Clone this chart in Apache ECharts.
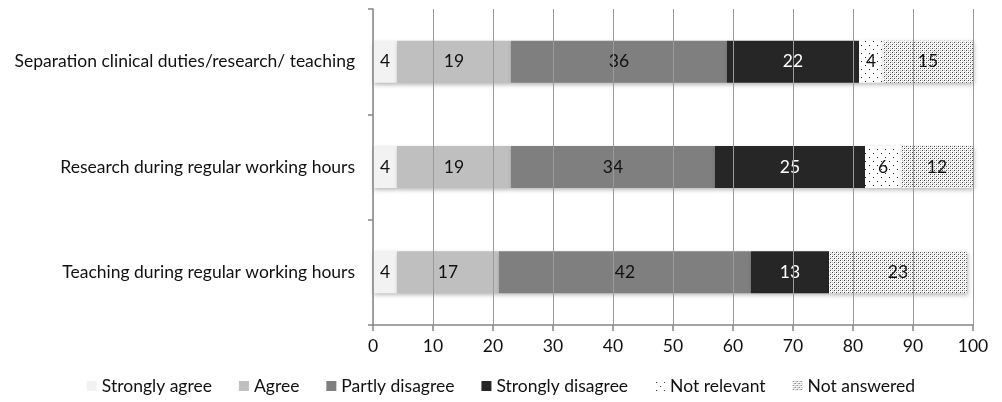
<!DOCTYPE html>
<html>
<head>
<meta charset="utf-8">
<script src="https://cdn.jsdelivr.net/npm/echarts@6/dist/echarts.min.js"></script>
<style>
  html, body { margin: 0; padding: 0; background: #fff; }
  #chart { width: 1002px; height: 402px; }
</style>
</head>
<body>
<div id="chart"></div>
<script>
// Survey responses (%) per statement
const categories = [
  'Separation clinical duties/research/ teaching',
  'Research during regular working hours',
  'Teaching during regular working hours'
];
const stronglyAgree = [4, 4, 4];
const agree = [19, 19, 17];
const partlyDisagree = [36, 34, 42];
const stronglyDisagree = [22, 25, 13];
const notRelevant = [4, 6, 0];
const notAnswered = [15, 12, 23];
const xTicks = [0, 10, 20, 30, 40, 50, 60, 70, 80, 90, 100];

// Dotted fills for the two "no opinion" groups
function dotPattern(size, dots) {
  const c = document.createElement('canvas');
  c.width = size; c.height = size;
  const g = c.getContext('2d');
  g.fillStyle = '#ffffff';
  g.fillRect(0, 0, size, size);
  dots.forEach(d => { g.fillStyle = d[2]; g.fillRect(d[0], d[1], 1, 1); });
  return { image: c, repeat: 'repeat' };
}
const sparseDots = dotPattern(8, [[1, 1, '#222'], [5, 5, '#222']]);
const denseDots = dotPattern(4, [[0, 0, '#444'], [2, 2, '#444'], [2, 0, '#bbb'], [0, 2, '#bbb'], [1, 3, '#ddd'], [3, 1, '#ddd']]);

const FONT = 'Lato';
const FS = 17.5;
const chart = echarts.init(document.getElementById('chart'), null, { renderer: 'canvas' });

function seriesOf(name, values, color, textColor) {
  return {
    name: name,
    type: 'bar',
    stack: 'total',
    barWidth: 42,
    data: values,
    itemStyle: {
      color: color,
      shadowColor: 'rgba(0,0,0,0.28)',
      shadowBlur: 4,
      shadowOffsetX: 1,
      shadowOffsetY: 2
    },
    label: {
      show: true,
      position: 'inside',
      color: textColor,
      fontFamily: FONT,
      fontSize: FS,
      formatter: p => (p.value ? String(p.value) : '')
    },
    emphasis: { disabled: true }
  };
}

chart.setOption({
  animation: false,
  grid: { left: 373, right: 29, top: 9, bottom: 77, containLabel: false },
  legend: {
    top: 372,
    left: 'center',
    icon: 'rect',
    itemWidth: 10,
    itemHeight: 10,
    itemGap: 27,
    textStyle: { fontFamily: FONT, fontSize: FS, color: '#111' },
    data: ['Strongly agree', 'Agree', 'Partly disagree', 'Strongly disagree', 'Not relevant', 'Not answered']
  },
  xAxis: {
    type: 'value',
    min: 0,
    max: 100,
    interval: 10,
    z: 5,
    axisLine: { show: true, lineStyle: { color: '#868686', width: 1.5 } },
    axisTick: { show: true, length: 6, lineStyle: { color: '#868686', width: 1.5 } },
    axisLabel: {
      margin: 12,
      fontFamily: FONT,
      fontSize: FS,
      color: '#111',
      formatter: v => (xTicks.indexOf(v) >= 0 ? String(v) : '')
    },
    splitLine: { show: true, lineStyle: { color: '#9a9a9a', width: 1 } }
  },
  yAxis: {
    type: 'category',
    data: categories,
    inverse: true,
    axisLine: { show: true, lineStyle: { color: '#868686', width: 1.5 } },
    axisTick: { show: true, length: 5, inside: false, alignWithLabel: false, lineStyle: { color: '#868686', width: 1.5 } },
    axisLabel: { margin: 18, fontFamily: FONT, fontSize: FS, color: '#111' }
  },
  series: [
    seriesOf('Strongly agree', stronglyAgree, '#f2f2f2', '#111'),
    seriesOf('Agree', agree, '#bfbfbf', '#111'),
    seriesOf('Partly disagree', partlyDisagree, '#7f7f7f', '#111'),
    seriesOf('Strongly disagree', stronglyDisagree, '#262626', '#fff'),
    seriesOf('Not relevant', notRelevant, sparseDots, '#111'),
    seriesOf('Not answered', notAnswered, denseDots, '#111')
  ]
});
</script>
</body>
</html>
